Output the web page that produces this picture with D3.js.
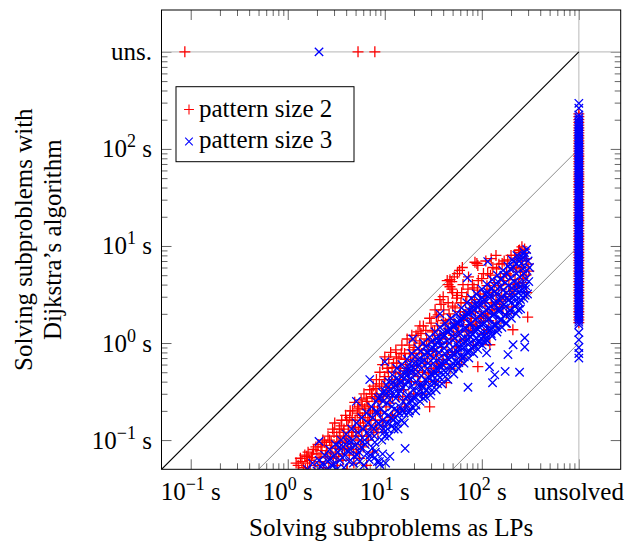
<!DOCTYPE html>
<html><head><meta charset="utf-8">
<script src="https://cdn.jsdelivr.net/npm/d3@7"></script>
<style>body{margin:0;background:#fff}svg{display:block}</style>
</head><body>
<svg id="c" width="630" height="546"></svg>
<script>
// ---------- data ----------
const UNSOLVED = 1000;                 // axis position used for "unsolved"
const axisDomain = [0.05, 2700];
const majorTicks = [0.1, 1, 10, 100, UNSOLVED];
const tickExponents = ["−1", "0", "1", "2"];
const unsolvedLabelX = "unsolved";
const unsolvedLabelY = "uns.";
const xTitle = "Solving subproblems as LPs";
const yTitle = ["Solving subproblems with", "Dijkstra’s algorithm"];
const seriesNames = ["pattern size 2", "pattern size 3"];
const refRatios = [1, 10, 100, 1000];  // y = x / ratio

// pattern size 2 : [LP time, Dijkstra time] (s)
const p2Solved = [[1.22,0.058],[1.3,0.048],[1.35,0.065],[1.45,0.052],[1.5,0.07],[1.6,0.058],[1.62,0.075],[1.7,0.049],[1.75,0.066],[1.85,0.08],[1.9,0.055],[2.0,0.072],[2.05,0.09],[2.15,0.06],[2.2,0.078],[2.3,0.1],[2.35,0.052],[2.45,0.068],[2.5,0.088],[2.6,0.11],[2.65,0.058],[2.75,0.075],[2.8,0.095],[2.9,0.13],[2.95,0.065],[3.05,0.15],[3.1,0.085],[3.2,0.11],[3.25,0.055],[3.35,0.072],[3.4,0.13],[3.5,0.095],[3.6,0.16],[3.7,0.062],[3.75,0.12],[3.85,0.082],[3.95,0.18],[4.0,0.105],[4.1,0.05],[4.2,0.14],[4.3,0.07],[4.4,0.2],[4.5,0.092],[4.6,0.16],[4.7,0.12],[4.8,0.058],[4.9,0.245],[5.0,0.135],[5.1,0.08],[5.2,0.19],[5.3,0.1],[5.4,0.22],[5.5,0.065],[5.6,0.15],[5.7,0.26],[5.8,0.11],[5.9,0.17],[6.0,0.085],[6.1,0.3],[6.2,0.21],[6.4,0.13],[6.5,0.055],[6.6,0.25],[6.7,0.17],[6.8,0.1],[7.0,0.33],[7.1,0.2],[7.2,0.14],[7.4,0.28],[7.5,0.075],[7.6,0.36],[7.8,0.22],[8.0,0.16],[8.2,0.42],[8.3,0.3],[8.5,0.12],[8.7,0.25],[8.9,0.5],[9.0,0.19],[9.3,0.36],[9.5,0.6],[9.7,0.28],[10,0.72],[10,0.45],[10.3,0.22],[10.6,0.55],[11,0.68],[11,0.35],[11.5,0.8],[11.8,0.42],[12,0.28],[12,0.18],[12.3,0.62],[12.8,0.5],[13,0.85],[13.2,0.72],[13.5,0.36],[14,0.7],[14.5,0.55],[15,0.95],[15.5,0.42],[16,0.78],[16,0.22],[16.5,0.6],[17,1.1],[17.5,0.48],[18,0.85],[18.5,0.65],[19,1.2],[20,0.52],[20,0.9],[21,0.7],[21,1.2],[22,1.3],[22,0.45],[23,1.0],[23,1.5],[24,0.78],[24,0.3],[25,1.5],[26,0.62],[27,1.1],[28,0.85],[29,1.8],[29,0.22],[30,0.55],[31,1.3],[32,1.0],[33,2.2],[33,0.4],[34,0.75],[34,1.86],[35,1.5],[36,1.1],[37,2.8],[38,2.5],[39,0.6],[40,1.7],[40,3.0],[42,1.25],[43,0.39],[44,4.4],[45,1.4],[46,2.0],[47,4.5],[47,3.8],[47,0.55],[48,1.1],[50,2.4],[50,3.3],[52,1.6],[53,0.81],[55,2.9],[57,1.3],[59,5.6],[59,0.6],[60,2.1],[62,3.3],[62,0.7],[65,1.7],[68,2.6],[70,1.35],[72,3.6],[75,2.2],[78,1.8],[80,4.0],[82,0.95],[84,2.8],[88,1.6],[89,6.6],[90,3.5],[91,6.3],[91,0.57],[95,2.4],[100,4.6],[105,3.0],[105,1.25],[110,2.0],[112,1.37],[115,5.2],[120,3.6],[121,0.96],[125,2.6],[130,6.0],[135,4.2],[140,3.1],[140,1.6],[150,6.5],[155,4.8],[160,3.6],[165,2.35],[170,7.0],[180,5.2],[180,2.0],[190,4.0],[200,8.0],[204,2.35],[209,1.37],[210,6.0],[220,4.5],[230,7.5],[240,9.0],[250,5.5],[259,9.8],[260,7.0],[280,8.5],[290,3.3],[297,1.85],[300,6.5],
[1.28,0.055],[1.4,0.06],[1.52,0.05],[1.57,0.068],[1.68,0.062],[1.8,0.072],[1.95,0.085],[2.1,0.066],[2.25,0.085],[2.4,0.095],[2.55,0.072],[2.7,0.1],[2.85,0.082],[3.0,0.12],[3.15,0.068],[3.3,0.095],[3.45,0.11],[3.55,0.14],[3.65,0.08],[3.8,0.13],[3.9,0.1],[4.05,0.16],[4.15,0.085],[4.25,0.12],[4.35,0.17],[4.55,0.11],[4.65,0.2],[4.75,0.075],[4.95,0.16],[5.05,0.11],[5.25,0.21],[5.35,0.13],[5.55,0.18],[5.65,0.09],[5.85,0.23],[6.05,0.14],[6.3,0.19],[6.45,0.27],[6.55,0.11],[6.85,0.22],[6.95,0.16],[7.3,0.3],[7.45,0.19],[7.7,0.12],[7.9,0.27],[8.1,0.34],[8.4,0.2],[8.8,0.38],[9.1,0.26],[9.4,0.16],[9.9,0.42],[10.5,0.3],[10.9,0.5],[11.3,0.24],[11.9,0.56],[12.6,0.38],[13.3,0.62],[13.8,0.28],[14.3,0.48],[14.8,0.78],[15.6,0.33],[16.3,0.68],[17.2,0.52],[17.9,0.95],[18.8,0.4],[19.6,0.78],[20.5,1.05],[21.5,0.58],[22.6,0.85],[23.6,1.25],[24.5,0.5],[25.5,0.95],[26.5,1.35],[27.6,0.7],[28.6,1.05],[30,1.6],[31.5,0.82],[32.6,1.35],[34,0.62],[35.5,1.95],[37,1.2],[38.5,0.9],[40.5,2.2],[42,1.6],[43.5,1.0],[45,2.6],[47.5,1.75],[49,3.6],[51,1.2],[53,2.3],[56,3.1],[58,1.5],[61,2.6],[64,4.0],[66,1.95],[70,3.0],[73,4.8],[76,1.55],[79,2.6],[83,3.7],[86,2.1],[92,4.4],[96,3.2],[99,1.9],[104,5.2],[108,2.6],[113,3.9],[118,1.7],[123,5.0],[128,3.3],[134,2.2],[142,5.8],[148,3.9],[153,2.7],[162,6.6],[168,4.4],[175,3.0],[185,7.2],[195,5.0],[205,3.2],[218,8.0],[226,5.8],[235,3.8],[248,8.6],[258,6.0],[266,4.2],[276,9.3],[288,7.4],[305,5.5],
[45,4.0],[49,4.3],[52,4.8],[56,5.2],[63,6.0],[85,6.8],[110,7.0],[125,7.4],[140,8.0],[245,9.1],
[8.2,0.13],[9.6,0.14],[11.5,0.17],[13.6,0.2],[15.3,0.26],[17.8,0.28],[19.9,0.3],[23,0.37],[26,0.4],[28.2,0.48],[31.8,0.5],[36.2,0.58],[40,0.68],[44,0.76],[49.5,0.8],[55,0.92],[60,1.05],[67,1.1],[73,1.3],[80,1.35],[87,1.5],[96,1.65],[104,1.8],[115,2.0],[128,2.2],[142,2.5],[158,2.8],[176,3.0],[195,3.4],[215,3.7],[240,4.1],[265,4.6],[285,5.0]];
// pattern size 2 : Dijkstra times of subproblems unsolved as LPs
const p2UnsolvedLP = [230,215,200,188,176,165,155,146,137,129,121,114,107,101,95,89,84,79,74,70,66,62,58,55,52,49,46,43,40.5,38,36,34,32,30,28.2,26.5,25,23.5,22,20.7,19.5,18.3,17.2,16.2,15.2,14.3,13.4,12.6,11.8,11.1,10.4,9.8,9.2,8.6,8.1,7.6,7.1,6.7,6.3,5.9,5.5,5.2,4.9,4.6,4.3,4.0,3.75,3.5,3.3,3.1,2.9,2.7,2.55,2.4,2.25,2.1,1.97,1.85,1.73,1.62];
// pattern size 2 : LP times of subproblems unsolved by Dijkstra
const p2UnsolvedDijkstra = [0.087, 5.3, 7.9];

// pattern size 3
const p3Solved = [[1.6,0.05],[1.8,0.058],[2.0,0.048],[2.1,0.062],[2.1,0.097],[2.2,0.053],[2.4,0.07],[2.5,0.05],[2.6,0.06],[2.7,0.08],[2.85,0.055],[2.95,0.068],[3.1,0.09],[3.2,0.05],[3.3,0.075],[3.45,0.062],[3.55,0.1],[3.7,0.085],[3.8,0.052],[3.9,0.07],[4.0,0.115],[4.15,0.095],[4.3,0.06],[4.4,0.08],[4.55,0.13],[4.7,0.1],[4.85,0.068],[5.0,0.088],[5.1,0.15],[5.1,0.25],[5.3,0.12],[5.45,0.075],[5.5,0.06],[5.6,0.1],[5.8,0.17],[6.0,0.13],[6.1,0.055],[6.3,0.09],[6.5,0.19],[6.5,0.072],[6.7,0.15],[6.9,0.11],[7.0,0.42],[7.1,0.07],[7.3,0.22],[7.5,0.17],[7.5,0.083],[7.7,0.13],[7.9,0.095],[7.9,0.066],[8.1,0.25],[8.3,0.19],[8.4,0.06],[8.6,0.15],[8.8,0.06],[8.9,0.056],[9.0,0.28],[9.2,0.21],[9.5,0.16],[9.5,0.072],[9.8,0.12],[10,0.32],[10,0.64],[10,0.11],[10.2,0.058],[10.5,0.24],[10.8,0.18],[11,0.4],[11.3,0.068],[11.5,0.3],[11.8,0.22],[12,0.47],[12.2,0.16],[12.5,0.35],[12.5,0.13],[13,0.27],[13.3,0.55],[13.6,0.2],[14,0.42],[14.5,0.32],[15,0.6],[15,0.16],[15.5,0.25],[16,0.48],[16.2,0.082],[16.5,0.37],[17,0.68],[17.5,0.29],[18,0.55],[18,0.2],[18.5,0.42],[19,0.78],[19.5,0.33],[19.5,1.1],[20,0.62],[21,0.48],[21,0.23],[22,0.88],[22.5,0.36],[23,0.7],[24,0.55],[25,1.0],[25,0.27],[26,0.42],[27,0.8],[28,0.62],[29,1.15],[30,0.48],[30,0.32],[31,0.9],[32,0.7],[33,1.3],[34,0.55],[35,1.0],[35,0.38],[36,0.8],[37,1.45],[37,2.0],[38,0.62],[40,1.15],[41,0.88],[42,1.6],[42,0.45],[44,0.7],[45,1.3],[46,1.0],[48,1.8],[50,0.78],[50,0.55],[51,1.45],[53,1.12],[55,2.0],[57,0.9],[58,1.6],[58,0.63],[60,1.25],[62,2.3],[64,1.0],[66,1.8],[66,0.72],[68,1.4],[70,2.6],[71,4.7],[72,1.1],[72,0.35],[74,2.0],[75,0.82],[76,1.55],[78,2.9],[80,1.25],[83,2.2],[85,0.95],[86,1.75],[88,3.2],[90,1.4],[93,2.5],[95,1.05],[96,1.95],[100,3.6],[103,1.55],[106,2.8],[107,1.03],[108,1.2],[110,2.2],[112,0.79],[113,4.0],[115,6.9],[116,1.75],[120,3.1],[120,0.57],[122,1.35],[124,2.4],[128,4.5],[129,0.39],[132,1.95],[136,3.4],[136,0.47],[138,1.5],[140,2.7],[145,5.0],[150,2.2],[155,3.8],[155,1.7],[160,3.0],[165,5.6],[170,2.5],[174,0.51],[175,4.2],[175,1.95],[180,3.3],[186,6.2],[186,0.76],[192,2.8],[195,2.2],[198,4.7],[205,3.7],[210,0.96],[212,6.9],[220,3.1],[220,2.4],[228,5.2],[236,4.1],[245,7.6],[245,0.5],[250,2.8],[255,3.5],[265,5.8],[270,8.7],[275,8.5],[277,1.13],[277,0.91],[280,3.1],[285,4.6],[300,7.0],
[8.2,0.2],[8.6,0.27],[9.1,0.14],[9.4,0.31],[9.9,0.19],[10.4,0.37],[10.7,0.13],[11.2,0.26],[11.6,0.17],[12.1,0.39],[12.6,0.21],[13.1,0.43],[13.4,0.15],[13.9,0.3],[14.3,0.22],[14.8,0.45],[15.2,0.35],[15.8,0.19],[16.3,0.52],[16.8,0.28],[17.3,0.41],[17.8,0.6],[18.3,0.24],[18.9,0.36],[19.3,0.5],[19.8,0.27],[20.5,0.72],[21.2,0.4],[21.8,0.57],[22.2,0.29],[23.3,0.82],[23.8,0.46],[24.5,0.35],[25.5,0.66],[26.3,0.92],[26.8,0.33],[27.5,0.55],[28.3,0.44],[29.2,0.75],[30.2,1.02],[30.8,0.4],[31.6,0.62],[32.5,0.5],[33.4,0.85],[34.3,1.12],[35.2,0.47],[36.3,0.7],[37.3,0.58],[38.3,0.95],[39.4,1.25],[40.5,0.52],[41.5,0.78],[43,0.64],[44,1.05],[45.5,1.4],[46.5,0.58],[47.5,0.86],[49,0.72],[50.5,1.18],[52,1.55],[53.5,0.65],[55,0.98],[56.5,0.8],[58,1.3],[59.5,1.7],[61,0.74],[63,1.1],[65,0.9],[67,1.45],[69,1.9],[71,0.82],[73,1.22],[75,1.0],[77,1.6],[79,2.1],[81,0.92],[84,1.38],[87,1.12],[89,1.8],[92,2.35],[94,1.0],[97,1.55],[100,1.25],[102,2.0],[105,2.6],[109,1.1],[112,1.7],[115,1.4],[118,2.25],[121,2.9],[125,1.25],[129,1.9],[133,1.55],[137,2.5],[141,3.2],[146,1.4],[150,2.1],[155,2.75],[160,1.75],[165,3.5],[170,2.3],[176,1.6],[182,2.9],[188,3.9],[194,2.0],[200,2.6],[207,3.3],[214,4.3],[221,2.7],[229,3.6],[237,2.2],[246,4.8],[254,3.1],[262,4.0],[272,5.2],[282,3.6],[292,5.6],[305,4.3],[310,6.0],[230,8.0],[205,7.2],[290,9.2],[255,6.6],
[2.3,0.058],[2.75,0.065],[3.0,0.056],[3.4,0.085],[3.65,0.066],[4.1,0.078],[4.45,0.095],[4.75,0.058],[5.2,0.07],[5.75,0.085],[6.2,0.1],[6.6,0.12],[6.9,0.063],[7.3,0.14],[7.8,0.11],[8.0,0.075],
[9.3,0.1],[9.7,0.13],[10.6,0.15],[11.1,0.11],[11.9,0.14],[12.8,0.17],[13.7,0.13],[14.1,0.19],[15.4,0.2],[15.9,0.15],[16.6,0.23],[17.6,0.19],[18.6,0.26],[19.1,0.22],[20.2,0.28],[20.8,0.2],[22.4,0.32],[23.1,0.25],[24.2,0.37],[25.3,0.3],[26.4,0.28],[27.2,0.4],[28.8,0.35],[29.6,0.29],[31.2,0.46],[32.8,0.39],[33.9,0.33],[35.8,0.52],[36.8,0.44],[38.8,0.38],[39.8,0.6],[42.5,0.5],[44.8,0.42],[46,0.68],[48.3,0.57],[51.5,0.48],[53,0.77],[55.5,0.62],[57.5,0.55],[60.5,0.9],[62.5,0.7],[65.5,0.62],[68.5,1.02],[70.5,0.8],[73.5,0.7],[76.5,1.15],[79.5,0.88],[82.5,0.78],[85.5,1.3],[88.5,1.0],[91,0.86],[95.5,1.45],[98.5,1.12],[101,0.95],[106.5,1.6],[111,1.25],[114,1.05],[119,1.8],[124,1.4],[127,1.18],[134,2.0],[139,1.55],[143,1.3],[150,2.25],[156,1.75],[161,1.45],[168,2.5],[174,1.95],[180,1.6],[188,2.75],[196,2.15],[202,1.8],[211,3.0],[219,2.4],[226,2.0],[236,3.3],[244,2.6],[251,2.25],[262,3.6],[271,2.9],[283,3.9],[296,3.2],
[9.6,0.25],[10.3,0.3],[11.4,0.33],[12.4,0.3],[13.2,0.37],[14.6,0.39],[15.7,0.43],[17.1,0.47],[18.1,0.5],[19.7,0.56],[21.6,0.62],[23.6,0.64],[25.8,0.76],[28.1,0.8],[30.5,0.86],[33,0.97],[35.6,1.06],[38,1.08],[41,1.22],[44.5,1.3],[47.8,1.38],[51.6,1.52],[55.8,1.6],[60.2,1.78],[64.5,1.85],[69.5,2.05],[74.6,2.15],[80.4,2.4],[86.5,2.45],[93.2,2.75],[100.5,2.9],[108,3.2],[116.5,3.3],[125.5,3.7],[135,3.9],[146,4.3],[157,4.5],[169,5.0],[182,5.2],[196,5.8],[211,6.0],[227,6.6],[244,7.0],[262,7.6],[280,7.9]];
const p3UnsolvedLP = [295,263,224,210,200,191,183,175,168,161,154,148,142,136,130,125,120,115,110,105.5,101,97,93,89,85.5,82,78.5,75,72,69,66,63.5,61,58.5,56,53.5,51.5,49.5,47.5,45.5,43.5,41.5,40,38.3,36.7,35.2,33.7,32.3,31,29.7,28.5,27.3,26.2,25.1,24.1,23.1,22.1,21.2,20.3,19.5,18.7,17.9,17.2,16.5,15.8,15.1,14.5,13.9,13.3,12.8,12.3,11.8,11.3,10.8,10.4,10.0,9.6,9.2,8.8,8.4,8.1,7.75,7.4,7.1,6.8,6.55,6.3,6.0,5.75,5.5,5.3,5.05,4.85,4.65,4.45,4.25,4.1,3.9,3.75,3.6,3.45,3.3,3.15,3.0,2.9,2.78,2.66,2.55,2.44,2.34,2.24,2.15,2.06,1.97,1.88,1.8,1.72,1.64,1.55,1.28,1.08,0.9,0.78,0.7];
const p3UnsolvedDijkstra = [2.1];

// ---------- drawing ----------
const M = {l: 161.5, t: 10, r: 620.7, b: 469.3};
const FONT = "'Liberation Serif','Times New Roman',serif";
const FS = 25;
const svg = d3.select("#c");
const x = d3.scaleLog().domain(axisDomain).range([M.l, M.r]);
const y = d3.scaleLog().domain(axisDomain).range([M.b, M.t]);

svg.append("defs").append("clipPath").attr("id", "clip")
  .append("rect").attr("x", M.l).attr("y", M.t).attr("width", M.r - M.l).attr("height", M.b - M.t);

const minorTicks = [];
for (let e = -1; e <= 2; e++) for (let k = 2; k <= 9; k++) minorTicks.push(k * Math.pow(10, e));

function tickAxis(gen, tr, vals, len) {
  const g = svg.append("g").attr("transform", tr)
    .call(gen.tickValues(vals).tickSizeInner(-len).tickSizeOuter(0).tickFormat(""));
  g.select(".domain").remove();
  g.selectAll("line").attr("stroke", "#666").attr("stroke-width", 1);
}
const axisGens = () => [[d3.axisBottom(x), `translate(0,${M.b})`], [d3.axisTop(x), `translate(0,${M.t})`],
 [d3.axisLeft(y), `translate(${M.l},0)`], [d3.axisRight(y), `translate(${M.r},0)`]];
axisGens().forEach(([gen, tr]) => tickAxis(gen, tr, minorTicks, 6));
axisGens().forEach(([gen, tr]) => tickAxis(gen, tr, majorTicks, 10));

const plot = svg.append("g").attr("clip-path", "url(#clip)");
plot.append("line").attr("x1", M.l).attr("x2", M.r).attr("y1", y(UNSOLVED)).attr("y2", y(UNSOLVED))
  .attr("stroke", "#c4c4c4").attr("stroke-width", 1.2);
plot.append("line").attr("x1", x(UNSOLVED)).attr("x2", x(UNSOLVED)).attr("y1", M.t).attr("y2", M.b)
  .attr("stroke", "#c4c4c4").attr("stroke-width", 1.2);
refRatios.forEach(r => {
  const x0 = Math.max(axisDomain[0], axisDomain[0] * r);
  plot.append("line").attr("x1", x(x0)).attr("y1", y(x0 / r)).attr("x2", x(UNSOLVED)).attr("y2", y(UNSOLVED / r))
    .attr("stroke", r === 1 ? "#000" : "#8c8c8c").attr("stroke-width", r === 1 ? 1.2 : 1);
});

const plusD = "M-5.5,0H5.5M0,-5.5V5.5";
const crossD = "M-4.2,-4.2L4.2,4.2M-4.2,4.2L4.2,-4.2";
function drawSeries(pts, d, color) {
  plot.append("g").selectAll("path").data(pts).join("path")
    .attr("transform", p => `translate(${x(p[0])},${y(p[1])})`)
    .attr("d", d).attr("fill", "none").attr("stroke", color).attr("stroke-width", 1.3);
}
const p2All = p2Solved.concat(p2UnsolvedLP.map(v => [UNSOLVED, v]), p2UnsolvedDijkstra.map(v => [v, UNSOLVED]));
const p3All = p3Solved.concat(p3UnsolvedLP.map(v => [UNSOLVED, v]), p3UnsolvedDijkstra.map(v => [v, UNSOLVED]));
drawSeries(p2All, plusD, "#ff0000");
drawSeries(p3All, crossD, "#0000ff");

svg.append("rect").attr("x", M.l).attr("y", M.t).attr("width", M.r - M.l).attr("height", M.b - M.t)
  .attr("fill", "none").attr("stroke", "#000").attr("stroke-width", 1);

function powLabel(sel, exp) {
  sel.append("tspan").text("10");
  sel.append("tspan").attr("font-size", 18).attr("dy", -10).text(exp);
  sel.append("tspan").attr("dy", 10).text(" s");
}
majorTicks.forEach((v, i) => {
  const tx = svg.append("text").attr("x", x(v)).attr("y", 500).attr("text-anchor", "middle")
    .attr("font-family", FONT).attr("font-size", FS).attr("fill", "#000");
  if (v === UNSOLVED) tx.text(unsolvedLabelX); else powLabel(tx, tickExponents[i]);
  const ty = svg.append("text").attr("x", 152).attr("y", y(v) + 8.5).attr("text-anchor", "end")
    .attr("font-family", FONT).attr("font-size", FS).attr("fill", "#000");
  if (v === UNSOLVED) ty.text(unsolvedLabelY); else powLabel(ty, tickExponents[i]);
});

svg.append("text").attr("x", (M.l + M.r) / 2).attr("y", 536).attr("text-anchor", "middle")
  .attr("font-family", FONT).attr("font-size", FS).text(xTitle);
yTitle.forEach((t, i) => {
  svg.append("text").attr("transform", `translate(${31.5 + i * 29},${(M.t + M.b) / 2}) rotate(-90)`)
    .attr("text-anchor", "middle").attr("font-family", FONT).attr("font-size", FS).text(t);
});

const lg = svg.append("g");
lg.append("rect").attr("x", 176).attr("y", 86.7).attr("width", 178).attr("height", 75)
  .attr("fill", "#fff").attr("stroke", "#000").attr("stroke-width", 1);
[[plusD, "#ff0000"], [crossD, "#0000ff"]].forEach(([d, c], i) => {
  lg.append("path").attr("transform", `translate(189,${109.5 + i * 32}) scale(0.9)`).attr("d", d)
    .attr("fill", "none").attr("stroke", c).attr("stroke-width", 1.2);
  lg.append("text").attr("x", 199).attr("y", 117 + i * 31).attr("font-family", FONT).attr("font-size", FS)
    .text(seriesNames[i]);
});
</script>
</body></html>
